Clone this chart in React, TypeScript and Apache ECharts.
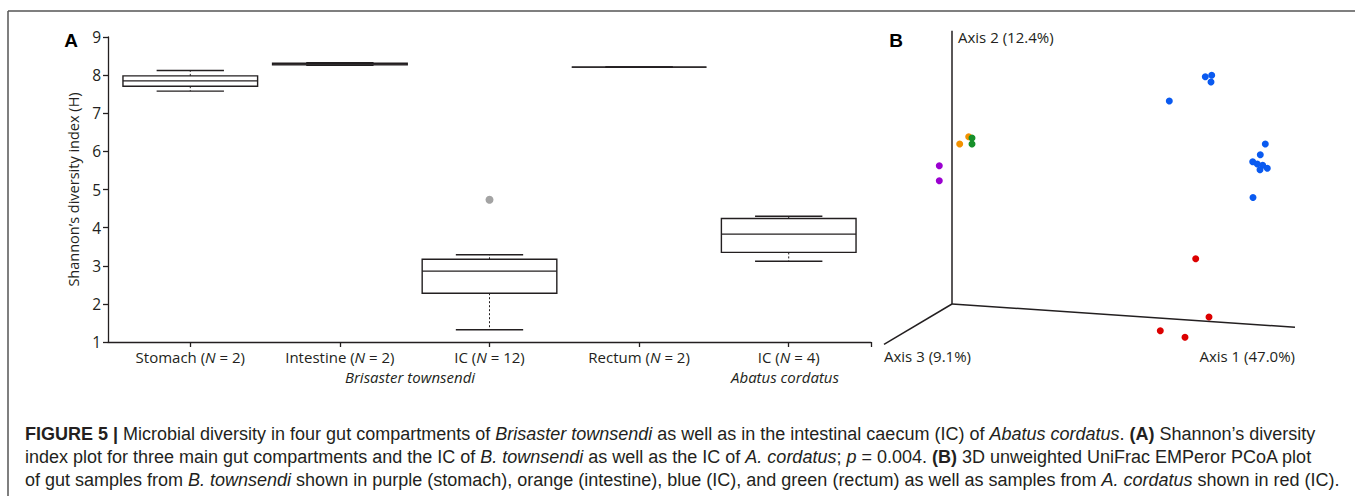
import React, { useEffect, useRef } from "react";
import * as echarts from "echarts";

// ---------- Panel A data (Shannon's diversity index) ----------
const categories = ["Stomach", "Intestine", "IC", "Rectum", "IC"];
const sampleSizes = [2, 2, 12, 2, 4];
const whiskerLow = [7.58, 8.255, 1.32, 8.205, 3.12];
const quartile1 = [7.71, 8.27, 2.28, 8.21, 3.35];
const medians = [7.85, 8.29, 2.86, 8.21, 3.83];
const quartile3 = [7.98, 8.31, 3.17, 8.21, 4.24];
const whiskerHigh = [8.12, 8.325, 3.29, 8.215, 4.3];
const outlierPoints = [[3, 4.73]];
const yTickValues = [1, 2, 3, 4, 5, 6, 7, 8, 9];

// ---------- Panel B data (projected 3D PCoA) ----------
const pcoaAxis1 = [[72, 46], [415, 22.7]];
const pcoaAxis2 = [[72, 46], [72, 319.3]];
const pcoaAxis3 = [[72, 46], [4, 5.7]];
const stomachPts = [[59.3, 184.3], [59.3, 169.3]];
const intestinePts = [[79.7, 206], [88.7, 213.3]];
const rectumPts = [[92, 212], [92, 206]];
const icBtPts = [
  [325.3, 273.3], [331.7, 274.7], [331, 268], [289.3, 249],
  [385.3, 206], [380.3, 195.3], [372.7, 188.3], [377.3, 186],
  [382.7, 184.7], [380, 180.3], [387.3, 181.7], [373, 152.5],
];
const icAcPts = [[315.7, 91.3], [329, 33], [280.3, 19.3], [305, 12.7]];

const captionLines = [
  "{b|FIGURE 5 |} Microbial diversity in four gut compartments of {i|Brisaster townsendi} as well as in the intestinal caecum (IC) of {i|Abatus cordatus}. {b|(A)} Shannon\u2019s diversity",
  "index plot for three main gut compartments and the IC of {i|B. townsendi} as well as the IC of {i|A. cordatus}; {i|p} = 0.004. {b|(B)} 3D unweighted UniFrac EMPeror PCoA plot",
  "of gut samples from {i|B. townsendi} shown in purple (stomach), orange (intestine), blue (IC), and green (rectum) as well as samples from {i|A. cordatus} shown in red (IC).",
];

const FONT = "'Open Sans', 'Noto Sans', sans-serif";
const CAP_FONT = "'Liberation Sans', Arial, sans-serif";
const CAP_SIZE = 18;
const INK = "#231f20";
const BOX_HALF = 0.45;

export default function App() {
  const ref = useRef<HTMLDivElement>(null);

  useEffect(() => {
    if (!ref.current) return;
    const chart = echarts.init(ref.current, undefined, { renderer: "svg" });

    const boxData = categories.map((_, i) => [
      i + 1,
      whiskerLow[i],
      quartile1[i],
      medians[i],
      quartile3[i],
      whiskerHigh[i],
    ]);

    const scatter = (data: number[][], color: string, name: string) => ({
      type: "scatter",
      name,
      xAxisIndex: 1,
      yAxisIndex: 1,
      data,
      symbolSize: 7,
      itemStyle: { color, opacity: 1 },
      silent: true,
    });

    const axisLineSeries = (data: number[][]) => ({
      type: "line",
      xAxisIndex: 1,
      yAxisIndex: 1,
      data,
      symbol: "none",
      lineStyle: { color: INK, width: 1.5 },
      silent: true,
    });

    const capRich = {
      b: { fontFamily: CAP_FONT, fontSize: CAP_SIZE, fontWeight: "bold", fill: INK },
      i: { fontFamily: CAP_FONT, fontSize: CAP_SIZE, fontStyle: "italic", fill: INK },
    };

    chart.setOption({
      animation: false,
      grid: [
        { left: 108, top: 37, width: 763, height: 305 },
        { left: 880, top: 30, width: 420, height: 320 },
      ],
      xAxis: [
        {
          type: "value",
          gridIndex: 0,
          min: 0.45,
          max: 5.55,
          axisLine: { show: true, onZero: false, lineStyle: { color: INK, width: 1.3 } },
          axisTick: {
            show: true,
            length: 5,
            customValues: [1, 2, 3, 4, 5, 5.55],
            lineStyle: { color: INK, width: 1.3 },
          },
          axisLabel: {
            customValues: [1, 2, 3, 4, 5],
            margin: 7,
            color: INK,
            fontFamily: FONT,
            fontSize: 15,
            formatter: (v: number) => {
              const i = Math.round(v) - 1;
              return `${categories[i]} ({i|N} = ${sampleSizes[i]})`;
            },
            rich: {
              i: { fontFamily: FONT, fontSize: 15, fontStyle: "italic", color: INK },
            },
          },
          splitLine: { show: false },
        },
        { type: "value", gridIndex: 1, min: 0, max: 420, show: false },
      ],
      yAxis: [
        {
          type: "value",
          gridIndex: 0,
          min: yTickValues[0],
          max: yTickValues[yTickValues.length - 1],
          interval: 1,
          name: "Shannon\u2019s diversity index (H)",
          nameLocation: "middle",
          nameGap: 25,
          nameTextStyle: { fontFamily: FONT, fontSize: 14.5, color: INK },
          axisLine: { show: true, onZero: false, lineStyle: { color: INK, width: 1.3 } },
          axisTick: { show: true, length: 5, lineStyle: { color: INK, width: 1.3 } },
          axisLabel: { margin: 7, color: INK, fontFamily: FONT, fontSize: 15.5 },
          splitLine: { show: false },
        },
        { type: "value", gridIndex: 1, min: 0, max: 320, show: false },
      ],
      series: [
        {
          type: "custom",
          xAxisIndex: 0,
          yAxisIndex: 0,
          data: boxData,
          encode: { x: 0, y: [1, 2, 3, 4, 5] },
          silent: true,
          renderItem: (_params: any, api: any) => {
            const x = api.value(0);
            const lo = api.coord([x, api.value(1)]);
            const q1 = api.coord([x, api.value(2)]);
            const med = api.coord([x, api.value(3)]);
            const q3 = api.coord([x, api.value(4)]);
            const hi = api.coord([x, api.value(5)]);
            const half = api.size([BOX_HALF, 0])[0];
            const cap = half / 2;
            const cx = med[0];
            const solid = { stroke: INK, lineWidth: 1.4, fill: null };
            const dashed = { stroke: INK, lineWidth: 1, lineDash: [2, 2], fill: null };
            return {
              type: "group",
              children: [
                { type: "line", shape: { x1: cx, y1: q3[1], x2: cx, y2: hi[1] }, style: dashed },
                { type: "line", shape: { x1: cx, y1: q1[1], x2: cx, y2: lo[1] }, style: dashed },
                { type: "line", shape: { x1: cx - cap, y1: hi[1], x2: cx + cap, y2: hi[1] }, style: solid },
                { type: "line", shape: { x1: cx - cap, y1: lo[1], x2: cx + cap, y2: lo[1] }, style: solid },
                {
                  type: "rect",
                  shape: { x: cx - half, y: q3[1], width: 2 * half, height: q1[1] - q3[1] },
                  style: { stroke: INK, lineWidth: 1.4, fill: "#ffffff" },
                },
                { type: "line", shape: { x1: cx - half, y1: med[1], x2: cx + half, y2: med[1] }, style: solid },
              ],
            };
          },
        },
        {
          type: "scatter",
          xAxisIndex: 0,
          yAxisIndex: 0,
          data: outlierPoints,
          symbolSize: 8,
          itemStyle: { color: "#a3a3a3", opacity: 1 },
          silent: true,
        },
        axisLineSeries(pcoaAxis1),
        axisLineSeries(pcoaAxis2),
        axisLineSeries(pcoaAxis3),
        scatter(stomachPts, "#9b00d0", "stomach"),
        scatter(intestinePts, "#f29100", "intestine"),
        scatter(rectumPts, "#17902a", "rectum"),
        scatter(icBtPts, "#0a5af0", "IC B. townsendi"),
        scatter(icAcPts, "#dc0000", "IC A. cordatus"),
      ],
      graphic: [
        { type: "line", shape: { x1: 8, y1: 11, x2: 1355, y2: 11 }, style: { stroke: "#555", lineWidth: 1.5 }, silent: true },
        { type: "line", shape: { x1: 8, y1: 11, x2: 8, y2: 496 }, style: { stroke: "#555", lineWidth: 1.5 }, silent: true },
        {
          type: "text", x: 71, y: 40,
          style: { text: "A", fontFamily: "'Liberation Sans', Arial, sans-serif", fontWeight: "bold", fontSize: 19, fill: "#000", align: "center", verticalAlign: "middle" },
        },
        {
          type: "text", x: 896, y: 40,
          style: { text: "B", fontFamily: "'Liberation Sans', Arial, sans-serif", fontWeight: "bold", fontSize: 19, fill: "#000", align: "center", verticalAlign: "middle" },
        },
        {
          type: "text", x: 410, y: 377,
          style: { text: "Brisaster townsendi", fontFamily: FONT, fontStyle: "italic", fontSize: 15, fill: INK, align: "center", verticalAlign: "middle" },
        },
        {
          type: "text", x: 785, y: 377,
          style: { text: "Abatus cordatus", fontFamily: FONT, fontStyle: "italic", fontSize: 15, fill: INK, align: "center", verticalAlign: "middle" },
        },
        {
          type: "text", x: 958, y: 37,
          style: { text: "Axis 2 (12.4%)", fontFamily: FONT, fontSize: 15, fill: INK, align: "left", verticalAlign: "middle" },
        },
        {
          type: "text", x: 884, y: 356,
          style: { text: "Axis 3 (9.1%)", fontFamily: FONT, fontSize: 15, fill: INK, align: "left", verticalAlign: "middle" },
        },
        {
          type: "text", x: 1295, y: 356,
          style: { text: "Axis 1 (47.0%)", fontFamily: FONT, fontSize: 15, fill: INK, align: "right", verticalAlign: "middle" },
        },
        ...captionLines.map((line, k) => ({
          type: "text",
          x: 25,
          y: 434 + k * 23,
          style: {
            text: line,
            fontFamily: CAP_FONT,
            fontSize: CAP_SIZE,
            fill: INK,
            align: "left",
            verticalAlign: "middle",
            rich: capRich,
          },
        })),
      ],
    });

    return () => chart.dispose();
  }, []);

  return (
    <div
      ref={ref}
      style={{ position: "fixed", left: 0, top: 0, width: 1355, height: 496, background: "#fff" }}
    />
  );
}
